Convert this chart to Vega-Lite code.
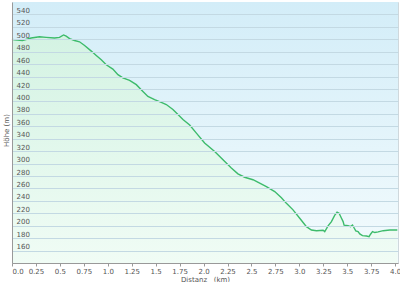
{
  "$schema": "https://vega.github.io/schema/vega-lite/v6.json",
  "width": 386,
  "height": 261,
  "autosize": {"type": "none"},
  "padding": {"left": 12, "top": 2, "right": 2, "bottom": 19},
  "config": {
    "font": "DejaVu Sans",
    "view": {"stroke": "#cfd8dc", "strokeWidth": 1},
    "axis": {"labelFont": "DejaVu Sans", "titleFont": "DejaVu Sans", "labelFontSize": 7, "titleFontSize": 7, "labelColor": "#555", "titleColor": "#555", "titleFontWeight": "normal"}
  },
  "encoding": {
    "x": {"field": "km", "type": "quantitative", "scale": {"domain": [0, 4.03], "nice": false, "zero": false}, "axis": {"zindex": 1, "title": "Distanz\u00a0\u00a0\u00a0(km)", "values": [0, 0.25, 0.5, 0.75, 1, 1.25, 1.5, 1.75, 2, 2.25, 2.5, 2.75, 3, 3.25, 3.5, 3.75, 4], "labelExpr": "datum.value == floor(datum.value) ? format(datum.value, '.1f') : toString(datum.value)", "labelOverlap": false, "grid": false, "domainColor": "#999", "tickColor": "#999", "tickSize": 3, "labelPadding": 1, "titlePadding": 1, "labelFlush": true}},
    "y": {"field": "m", "type": "quantitative", "scale": {"domain": [140, 560], "nice": false, "zero": false}, "axis": {"zindex": 1, "title": "Höhe (m)", "values": [160, 180, 200, 220, 240, 260, 280, 300, 320, 340, 360, 380, 400, 420, 440, 460, 480, 500, 520, 540], "labelOverlap": false, "grid": true, "gridColor": "#c3d9e3", "gridOpacity": 1, "tickSize": 0, "labelAlign": "left", "labelBaseline": "bottom", "labelPadding": -4, "labelOffset": -1, "domainColor": "#999", "titleX": -6, "titleY": 128, "titleAngle": -90, "titleBaseline": "middle"}}
  },
  "layer": [
    {
      "data": {"values": [{"km": 0, "km2": 4.03, "m": 140, "m2": 560}]},
      "mark": {"type": "rect", "color": {"gradient": "linear", "x1": 0, "y1": 0, "x2": 0, "y2": 1, "stops": [{"offset": 0, "color": "#d3edf8"}, {"offset": 1, "color": "#f3fbfd"}]}},
      "encoding": {
        "x2": {"field": "km2"},
        "y2": {"field": "m2"}
      }
    },
    {
      "data": {"name": "profile"},
      "mark": {"type": "area", "color": {"gradient": "linear", "x1": 0, "y1": 0, "x2": 0, "y2": 1, "stops": [{"offset": 0, "color": "#d4f3e3"}, {"offset": 1, "color": "#f0fcf5"}]}},
      "encoding": {
        "y2": {"datum": 140}
      }
    },
    {
      "data": {"name": "profile"},
      "mark": {"type": "line", "color": "#3dbb6b", "strokeWidth": 1.4}
    }
  ],
  "datasets": {
    "profile": [
      {"km": 0.0, "m": 500}, {"km": 0.026, "m": 499}, {"km": 0.11, "m": 498}, {"km": 0.2, "m": 502},
      {"km": 0.287, "m": 504}, {"km": 0.357, "m": 503}, {"km": 0.444, "m": 502}, {"km": 0.496, "m": 503},
      {"km": 0.538, "m": 507}, {"km": 0.566, "m": 505}, {"km": 0.601, "m": 501}, {"km": 0.653, "m": 498},
      {"km": 0.705, "m": 496}, {"km": 0.758, "m": 490}, {"km": 0.828, "m": 481}, {"km": 0.88, "m": 474},
      {"km": 0.932, "m": 467}, {"km": 0.984, "m": 459}, {"km": 1.053, "m": 452}, {"km": 1.106, "m": 443},
      {"km": 1.158, "m": 438}, {"km": 1.228, "m": 434}, {"km": 1.298, "m": 427}, {"km": 1.367, "m": 416},
      {"km": 1.419, "m": 408}, {"km": 1.489, "m": 403}, {"km": 1.559, "m": 398.5}, {"km": 1.611, "m": 395},
      {"km": 1.68, "m": 387}, {"km": 1.733, "m": 379}, {"km": 1.785, "m": 371}, {"km": 1.855, "m": 362},
      {"km": 1.925, "m": 349}, {"km": 2.011, "m": 333}, {"km": 2.116, "m": 319.5}, {"km": 2.203, "m": 306},
      {"km": 2.29, "m": 293}, {"km": 2.359, "m": 283.5}, {"km": 2.429, "m": 278}, {"km": 2.516, "m": 274},
      {"km": 2.586, "m": 268.5}, {"km": 2.656, "m": 263}, {"km": 2.743, "m": 255}, {"km": 2.813, "m": 245},
      {"km": 2.865, "m": 236}, {"km": 2.934, "m": 225.5}, {"km": 3.004, "m": 212}, {"km": 3.074, "m": 198.5},
      {"km": 3.126, "m": 193}, {"km": 3.179, "m": 192}, {"km": 3.248, "m": 192.6}, {"km": 3.265, "m": 190.5},
      {"km": 3.3, "m": 199.7}, {"km": 3.335, "m": 206.6}, {"km": 3.37, "m": 217}, {"km": 3.394, "m": 221.7},
      {"km": 3.415, "m": 220}, {"km": 3.44, "m": 212}, {"km": 3.457, "m": 206.6}, {"km": 3.467, "m": 201},
      {"km": 3.509, "m": 200}, {"km": 3.534, "m": 198.5}, {"km": 3.555, "m": 201}, {"km": 3.568, "m": 197.5},
      {"km": 3.589, "m": 191.6}, {"km": 3.613, "m": 190.5}, {"km": 3.631, "m": 186.8}, {"km": 3.659, "m": 184},
      {"km": 3.701, "m": 183.5}, {"km": 3.728, "m": 182.4}, {"km": 3.743, "m": 186.3}, {"km": 3.764, "m": 190.5},
      {"km": 3.788, "m": 189}, {"km": 3.823, "m": 190}, {"km": 3.875, "m": 192}, {"km": 3.945, "m": 193},
      {"km": 4.023, "m": 193}
    ]
  }
}
